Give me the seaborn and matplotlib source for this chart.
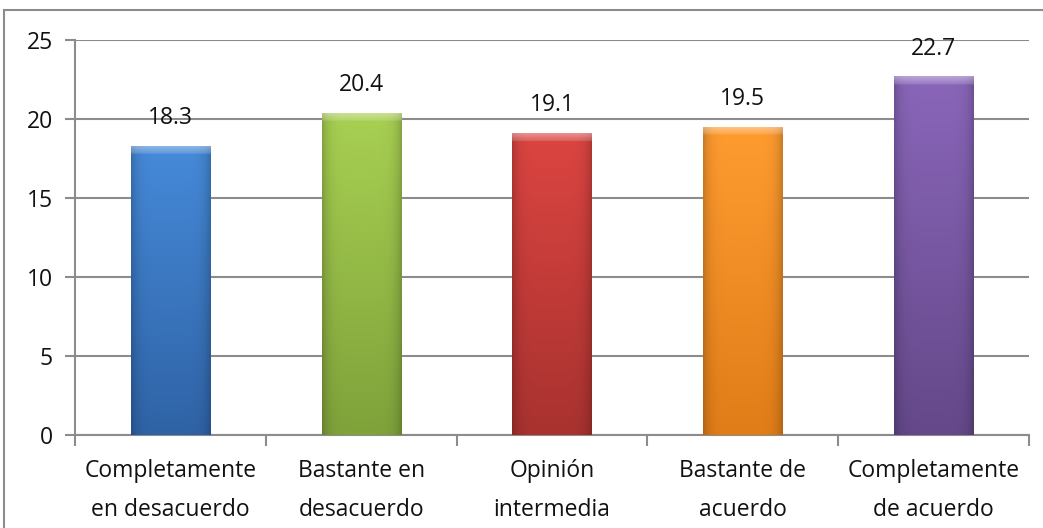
import numpy as np
import pandas as pd
import matplotlib
matplotlib.use("Agg")
import matplotlib.pyplot as plt
import matplotlib.colors as mcolors
from matplotlib.patches import Rectangle
from matplotlib.ticker import FixedLocator
import seaborn as sns

# Chart data
categories = [
    "Completamente\nen desacuerdo",
    "Bastante en\ndesacuerdo",
    "Opinión\nintermedia",
    "Bastante de\nacuerdo",
    "Completamente\nde acuerdo",
]
values = [18.3, 20.4, 19.1, 19.5, 22.7]
value_labels = ["18.3", "20.4", "19.1", "19.5", "22.7"]
y_ticks = [0, 5, 10, 15, 20, 25]

# Excel-like gradient colours (top / bottom of each bar)
top_colors = ["#468AD9", "#A8D052", "#DC4541", "#FF9C30", "#8A66BA"]
bottom_colors = ["#2F63A6", "#7FA23A", "#A8322F", "#E07D18", "#644889"]

GRID = "#8c8c8c"


def shade_bar(ax, patch, top, bottom):
    # paint a vertical + horizontal gradient inside the bar, clipped to it
    x0, w, h = patch.get_x(), patch.get_width(), patch.get_height()
    ny, nx = 300, 80
    t = np.linspace(0, 1, ny)[:, None, None]
    c_top = np.array(mcolors.to_rgb(top))
    c_bot = np.array(mcolors.to_rgb(bottom))
    img = c_top * (1 - t) + c_bot * t
    img = np.repeat(img, nx, axis=1)
    xs = np.linspace(-1, 1, nx)
    edge = 1 - 0.2 * np.abs(xs) ** 6
    img = img * edge[None, :, None]
    nb = max(1, int(ny * 0.55 / h))
    fade = np.linspace(0.4, 0.15, nb)[:, None, None]
    img[:nb] = img[:nb] * (1 - fade) + fade
    im = ax.imshow(np.clip(img, 0, 1), extent=(x0, x0 + w, 0, h),
                   aspect="auto", origin="upper", zorder=3,
                   interpolation="bilinear")
    im.set_clip_path(patch)
    patch.set_facecolor("none")
    patch.set_edgecolor("none")


sns.set_style("white")
plt.rcParams["font.family"] = ["Open Sans", "DejaVu Sans"]

fig = plt.figure(figsize=(10.43, 5.28), dpi=100)
ax = fig.add_axes([75 / 1043, 93 / 528, 954 / 1043, 395 / 528])

df = pd.DataFrame({"cat": categories, "val": values})
sns.barplot(data=df, x="cat", y="val", hue="cat", palette=bottom_colors,
            width=0.415, legend=False, ax=ax, zorder=3)

for patch, top, bottom in zip(ax.patches, top_colors, bottom_colors):
    shade_bar(ax, patch, top, bottom)

for i, (v, lbl) in enumerate(zip(values, value_labels)):
    ax.annotate(lbl, (i, v), xytext=(0, 20), textcoords="offset points",
                ha="center", va="center", fontsize=16.5, color="#111111")

ax.set_xlim(-0.5, len(categories) - 0.5)
ax.set_ylim(0, 25)
ax.set_yticks(y_ticks)
ax.set_xlabel("")
ax.set_ylabel("")

ax.set_axisbelow(True)
ax.yaxis.grid(True, color=GRID, linewidth=1.5)
for side in ["top", "right"]:
    ax.spines[side].set_visible(False)
for side in ["left", "bottom"]:
    ax.spines[side].set_color(GRID)
    ax.spines[side].set_linewidth(1.5)

ax.xaxis.set_minor_locator(FixedLocator(np.arange(-0.5, len(categories), 1.0)))
ax.tick_params(axis="y", left=True, length=7, width=1.5, color=GRID,
               labelsize=16.5, pad=9, labelcolor="#111111")
ax.tick_params(axis="x", which="major", bottom=True, length=0,
               labelsize=16.5, pad=17, labelcolor="#111111")
ax.tick_params(axis="x", which="minor", bottom=True, length=8, width=1.5,
               color=GRID)
for label in ax.get_xticklabels():
    label.set_linespacing(1.85)

# outer chart border
fig.add_artist(Rectangle((4 / 1043, -0.05), 1.2, 518 / 528 + 0.05,
                         transform=fig.transFigure, fill=False,
                         edgecolor=GRID, linewidth=1.5))

fig.savefig("out.png", dpi=100)
